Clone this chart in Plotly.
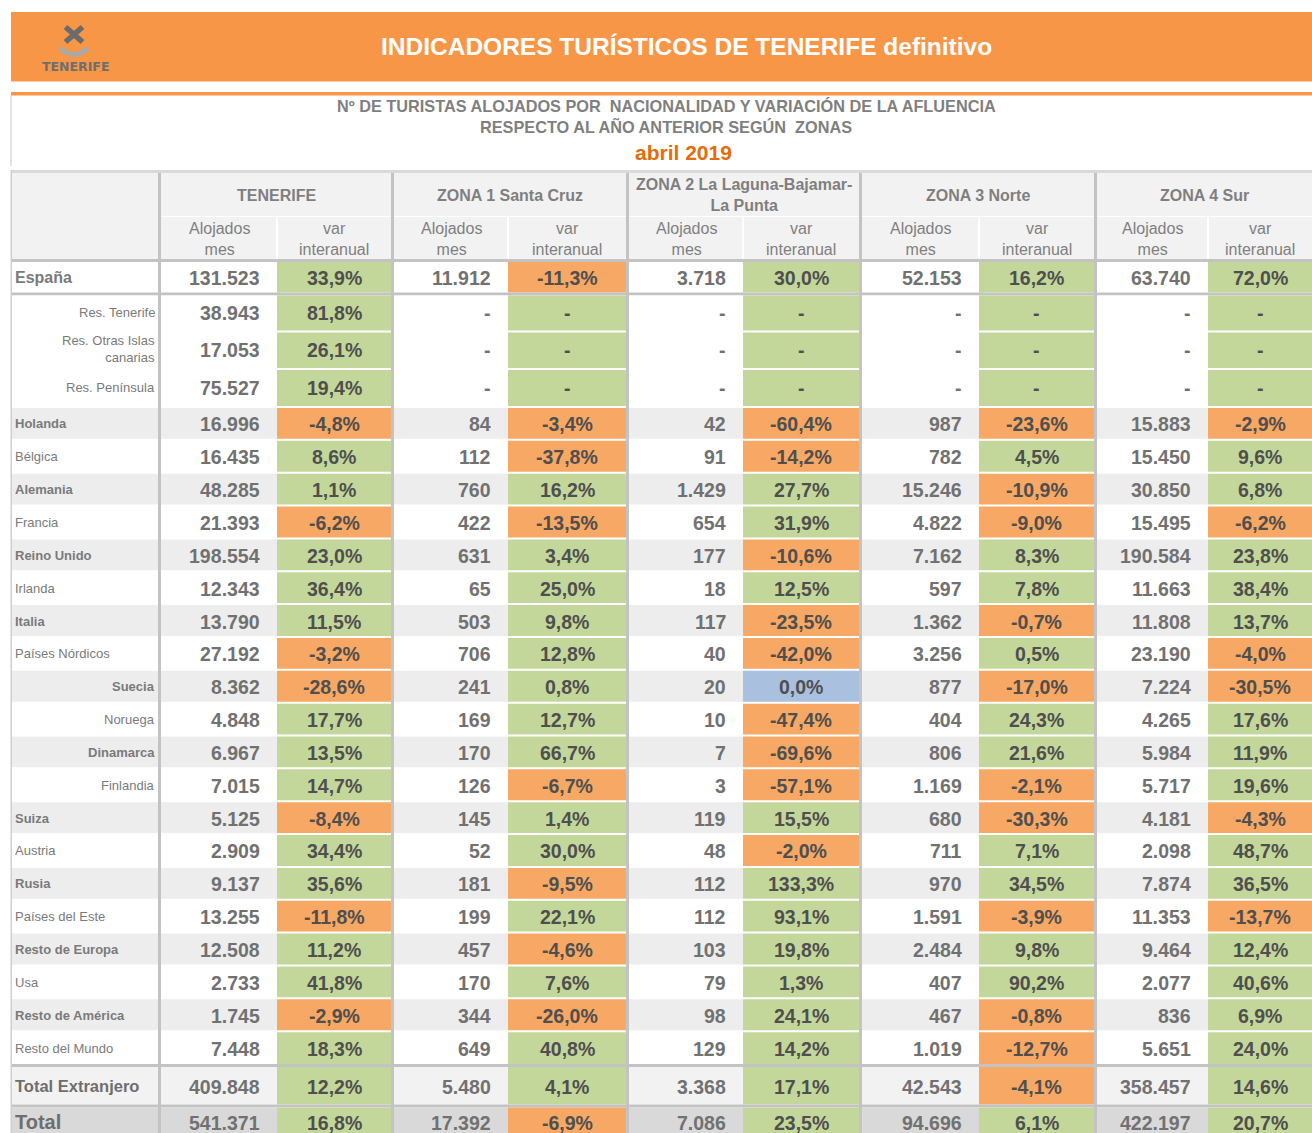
import plotly.graph_objects as go

# ---------------- data ----------------
row_labels = ["España", "Res. Tenerife", "Res. Otras Islas<br>canarias", "Res. Península",
              "Holanda", "Bélgica", "Alemania", "Francia", "Reino Unido", "Irlanda", "Italia",
              "Países Nórdicos", "Suecia", "Noruega", "Dinamarca", "Finlandia", "Suiza", "Austria",
              "Rusia", "Países del Este", "Resto de Europa", "Usa", "Resto de América",
              "Resto del Mundo", "Total Extranjero", "Total"]
zone_names = ["TENERIFE", "ZONA 1 Santa Cruz", "ZONA 2 La Laguna-Bajamar-<br>La Punta",
              "ZONA 3 Norte", "ZONA 4 Sur"]
sub_headers = ["Alojados<br>mes", "var<br>interanual"]

tenerife_alojados = [131523, 38943, 17053, 75527, 16996, 16435, 48285, 21393, 198554, 12343, 13790,
                     27192, 8362, 4848, 6967, 7015, 5125, 2909, 9137, 13255, 12508, 2733, 1745, 7448,
                     409848, 541371]
tenerife_var = [33.9, 81.8, 26.1, 19.4, -4.8, 8.6, 1.1, -6.2, 23.0, 36.4, 11.5, -3.2, -28.6, 17.7,
                13.5, 14.7, -8.4, 34.4, 35.6, -11.8, 11.2, 41.8, -2.9, 18.3, 12.2, 16.8]
zona1_alojados = [11912, None, None, None, 84, 112, 760, 422, 631, 65, 503, 706, 241, 169, 170, 126,
                  145, 52, 181, 199, 457, 170, 344, 649, 5480, 17392]
zona1_var = [-11.3, None, None, None, -3.4, -37.8, 16.2, -13.5, 3.4, 25.0, 9.8, 12.8, 0.8, 12.7, 66.7,
             -6.7, 1.4, 30.0, -9.5, 22.1, -4.6, 7.6, -26.0, 40.8, 4.1, -6.9]
zona2_alojados = [3718, None, None, None, 42, 91, 1429, 654, 177, 18, 117, 40, 20, 10, 7, 3, 119, 48,
                  112, 112, 103, 79, 98, 129, 3368, 7086]
zona2_var = [30.0, None, None, None, -60.4, -14.2, 27.7, 31.9, -10.6, 12.5, -23.5, -42.0, 0.0, -47.4,
             -69.6, -57.1, 15.5, -2.0, 133.3, 93.1, 19.8, 1.3, 24.1, 14.2, 17.1, 23.5]
zona3_alojados = [52153, None, None, None, 987, 782, 15246, 4822, 7162, 597, 1362, 3256, 877, 404, 806,
                  1169, 680, 711, 970, 1591, 2484, 407, 467, 1019, 42543, 94696]
zona3_var = [16.2, None, None, None, -23.6, 4.5, -10.9, -9.0, 8.3, 7.8, -0.7, 0.5, -17.0, 24.3, 21.6,
             -2.1, -30.3, 7.1, 34.5, -3.9, 9.8, 90.2, -0.8, -12.7, -4.1, 6.1]
zona4_alojados = [63740, None, None, None, 15883, 15450, 30850, 15495, 190584, 11663, 11808, 23190,
                  7224, 4265, 5984, 5717, 4181, 2098, 7874, 11353, 9464, 2077, 836, 5651, 358457,
                  422197]
zona4_var = [72.0, None, None, None, -2.9, 9.6, 6.8, -6.2, 23.8, 38.4, 13.7, -4.0, -30.5, 17.6, 11.9,
             19.6, -4.3, 48.7, 36.5, -13.7, 12.4, 40.6, 6.9, 24.0, 14.6, 20.7]

zone_alojados = [tenerife_alojados, zona1_alojados, zona2_alojados, zona3_alojados, zona4_alojados]
zone_var = [tenerife_var, zona1_var, zona2_var, zona3_var, zona4_var]

banner_title = "INDICADORES TURÍSTICOS DE TENERIFE definitivo"
subtitle_1 = "Nº DE TURISTAS ALOJADOS POR  NACIONALIDAD Y VARIACIÓN DE LA AFLUENCIA"
subtitle_2 = "RESPECTO AL AÑO ANTERIOR SEGÚN  ZONAS"
period = "abril 2019"

# ---------------- layout / styles ----------------
W, H = 1312, 1133
FONT = "Liberation Sans, Arial, sans-serif"
ORANGE_BANNER = "#F79646"
GREEN = "#C4D79B"
ORANGE = "#F7A864"
BLUE = "#A9C1DF"
GREY_ROW = "#EDEDED"
HEAD_BG = "#F2F2F2"
BAR = "#C3C3C3"
TXT_LABEL = "#7A7A7A"
TXT_NUM = "#717171"
TXT_VAR = "#4F4F4F"
TXT_HEAD = "#7F7F7F"

label_col = (12, 158)
groups = [(161, 277, 391), (394, 508, 626), (629, 743, 859), (862, 979, 1094), (1097, 1208, 1312)]
group_bars = [(158, 161), (391, 394), (626, 629), (859, 862), (1094, 1097)]

head_top, head_mid, head_bot = 173, 216.5, 259
row_heights = [30.5, 36, 37.5, 38] + [32.85] * 20 + [37.5, 36]
grey_after = {0, 23, 24}
BAR_H = 3

indented = {"Res. Tenerife", "Res. Otras Islas<br>canarias", "Res. Península",
            "Suecia", "Noruega", "Dinamarca", "Finlandia"}

shapes = []
annotations = []


def rect(x0, x1, y0, y1, color):
    shapes.append(dict(type="rect", xref="x", yref="y", x0=x0, x1=x1, y0=y0, y1=y1,
                       fillcolor=color, line=dict(width=0), layer="below"))


def text(x, y, s, size, color, xanchor="center", bold=False, align=None, family=FONT):
    annotations.append(dict(x=x, y=y, xref="x", yref="y", text=("<b>%s</b>" % s) if bold else s,
                            showarrow=False, xanchor=xanchor, yanchor="middle",
                            align=align or xanchor,
                            font=dict(family=family, size=size, color=color)))


def fmt_int(v):
    return "-" if v is None else "{:,}".format(v).replace(",", ".")


def fmt_pct(v):
    return "-" if v is None else ("%.1f" % v).replace(".", ",") + "%"


def var_color(v):
    if v is None or v > 0:
        return GREEN
    if v < 0:
        return ORANGE
    return BLUE


# ---------------- banner ----------------
rect(11, W, 12, 81.5, ORANGE_BANNER)
text(686, 46.5, banner_title, 24.5, "white", bold=True)
# logo
shapes.append(dict(type="line", xref="x", yref="y", x0=65.5, y0=27, x1=82.5, y1=42,
                   line=dict(color="#6B6B6B", width=5.5)))
shapes.append(dict(type="line", xref="x", yref="y", x0=82.5, y0=27, x1=65.5, y1=42,
                   line=dict(color="#6B6B6B", width=5.5)))
shapes.append(dict(type="path", xref="x", yref="y", path="M 60 48 Q 74 61 88 48",
                   line=dict(color="#A9A9A9", width=4.5)))
text(75, 66.5, "TENERIFE", 12.5, "#6E6E6E", bold=True, family="DejaVu Sans, sans-serif")

# orange line + titles
rect(11, W, 92, 95.5, ORANGE_BANNER)
rect(10.5, 11.5, 95.5, 166, "#C8C8C8")
text(666, 105.5, subtitle_1, 16.3, "#7F7F7F", bold=True)
text(666, 126.5, subtitle_2, 16.3, "#7F7F7F", bold=True)
text(683, 152.5, period, 21, "#E46C0A", bold=True)

# ---------------- table header ----------------
rect(11, W, 170, head_top, "#D9D9D9")
rect(label_col[0], label_col[1], head_top, head_bot, HEAD_BG)
for gi, (g0, g1, g2) in enumerate(groups):
    rect(g0, g2, head_top, head_mid - 0.5, HEAD_BG)
    rect(g0, g1 - 1, head_mid + 0.5, head_bot, HEAD_BG)
    rect(g1 + 1, g2, head_mid + 0.5, head_bot, HEAD_BG)
    text((g0 + g2) / 2, (head_top + head_mid) / 2 + 0.5, zone_names[gi], 16, TXT_HEAD, bold=True)
    text((g0 + g1) / 2, (head_mid + head_bot) / 2 + 1.5, sub_headers[0], 16, TXT_HEAD)
    text((g1 + g2) / 2, (head_mid + head_bot) / 2 + 1.5, sub_headers[1], 16, TXT_HEAD)

rect(label_col[0], W, head_bot, head_bot + BAR_H, BAR)

# ---------------- table body ----------------
y = head_bot + BAR_H
n = len(row_labels)
for i, lab in enumerate(row_labels):
    top = y
    bot = y + row_heights[i]
    y = bot
    if i == 0:
        bg, lsize, lbold = "white", 16, True
    elif i < 4:
        bg, lsize, lbold = "white", 13, False
    elif i < 24:
        even = (i - 4) % 2 == 0
        bg, lsize, lbold = (GREY_ROW if even else "white"), 13, even
    elif i == 24:
        bg, lsize, lbold = HEAD_BG, 16.5, True
    else:
        bg, lsize, lbold = "#D9D9D9", 20, True
    yc = (top + bot) / 2
    if 0 < i < 4:
        yc -= 1.5
    if i == n - 1:
        bot = H + 10
        yc = top + 14
    gap0 = 0 if (i - 1) in grey_after or i == 0 else 1
    gap1 = 0 if i in grey_after else 1
    rect(label_col[0], label_col[1], top + gap0, bot - gap1, bg)
    if lab in indented:
        text(label_col[1] - 1, yc + 0.5, lab, lsize, TXT_LABEL, xanchor="right", bold=lbold)
    else:
        text(label_col[0] + 1, yc + 0.5, lab, lsize, TXT_LABEL if i < 24 else "#6E6E6E",
             xanchor="left", bold=lbold)
    for gi, (g0, g1, g2) in enumerate(groups):
        a = zone_alojados[gi][i]
        v = zone_var[gi][i]
        rect(g0, g1, top + gap0, bot - gap1, bg)
        rect(g1, g2, top + gap0, bot - gap1, var_color(v))
        text(g1 - 15, yc + 1, fmt_int(a), 19.5, TXT_NUM, xanchor="right", bold=True)
        text((g1 + g2) / 2, yc + 1, fmt_pct(v), 19.5, TXT_VAR, bold=True)
    if i in grey_after:
        rect(label_col[0], W, y, y + BAR_H, BAR)
        y += BAR_H

# vertical group bars and left border
for b0, b1 in group_bars:
    rect(b0, b1, head_top, H + 10, BAR)
rect(10.5, 12, 170, H + 10, "#CFCFCF")

fig = go.Figure(go.Scatter(x=[], y=[], hoverinfo="skip"))
fig.update_layout(
    width=W, height=H,
    margin=dict(l=0, r=0, t=0, b=0),
    paper_bgcolor="white", plot_bgcolor="white",
    xaxis=dict(range=[0, W], visible=False, fixedrange=True),
    yaxis=dict(range=[H, 0], visible=False, fixedrange=True),
    showlegend=False,
    shapes=shapes,
    annotations=annotations,
)
fig.write_html("out.html", config={"displayModeBar": False},
               post_script="document.body.style.margin='0px';")
